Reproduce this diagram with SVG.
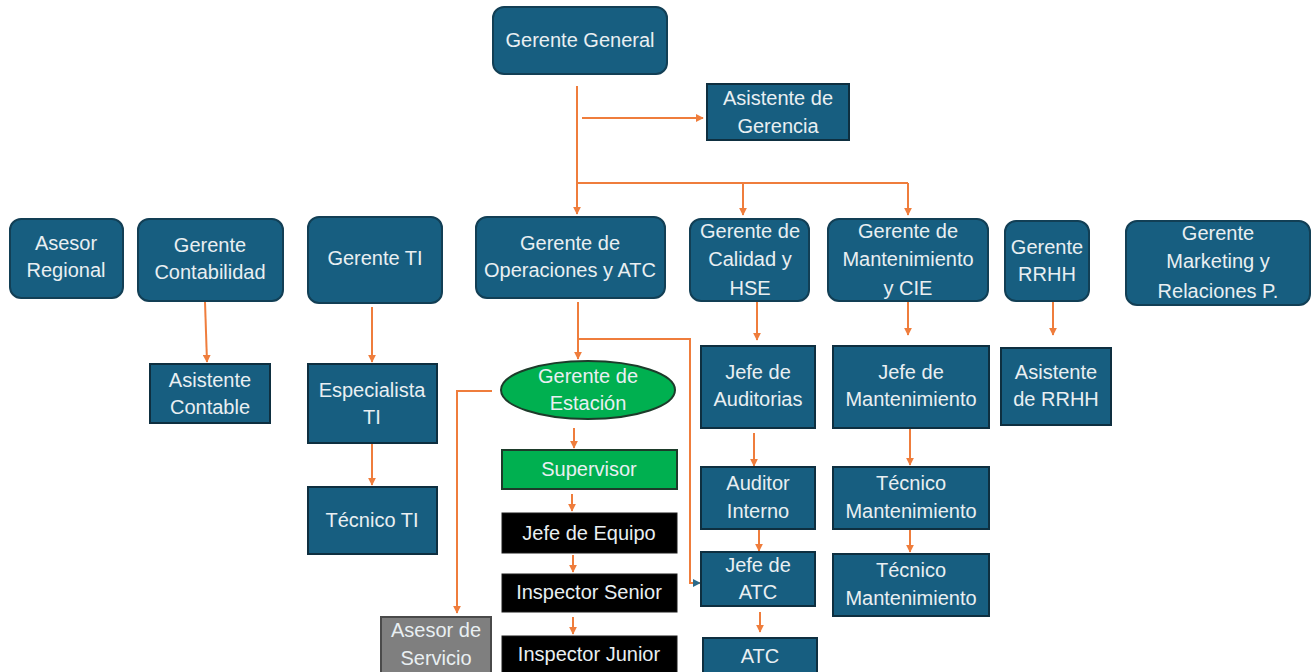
<svg xmlns="http://www.w3.org/2000/svg" width="1312" height="672" viewBox="0 0 1312 672">
  <style>
    .mgr { fill: #175e80; stroke: #123f55; stroke-width: 2; }
    .box { fill: #175e80; stroke: #0e2f40; stroke-width: 2; }
    .grn { fill: #00b050; stroke: #1d3b2a; stroke-width: 2; }
    .blk { fill: #000000; stroke: #1a1a1a; stroke-width: 1; }
    .gry { fill: #7f7f7f; stroke: #4a4a4a; stroke-width: 2; }
    text { font-family: "Liberation Sans", "DejaVu Sans", sans-serif; font-size: 20px; fill: #e9eff2; text-anchor: middle; }
    .wire { fill: none; stroke: #ef7d3c; stroke-width: 2; }
    .arr { marker-end: url(#ah); }
    .arrb { marker-end: url(#ahb); }
  </style>
  <defs>
    <marker id="ah" viewBox="0 0 10 10" refX="9" refY="5" markerWidth="4" markerHeight="4" orient="auto" markerUnits="strokeWidth">
      <path d="M0,0 L10,5 L0,10 z" fill="#ef7d3c"/>
    </marker>
    <marker id="ahb" viewBox="0 0 10 10" refX="9" refY="5" markerWidth="4" markerHeight="4" orient="auto" markerUnits="strokeWidth">
      <path d="M0,0 L10,5 L0,10 z" fill="#2a6a8a"/>
    </marker>
  </defs>

  <!-- connectors -->
  <g id="connectors">
    <path class="wire arr" d="M577,86 V214"/>
    <path class="wire arr" d="M582,118 H703"/>
    <path class="wire" d="M577,183 H908"/>
    <path class="wire arr" d="M743,183 V215"/>
    <path class="wire arr" d="M908,183 V215"/>
    <path class="wire arr" d="M205,302 L207,362"/>
    <path class="wire arr" d="M372,307 V362"/>
    <path class="wire arr" d="M372,443 V485"/>
    <path class="wire arr" d="M578,302 V359"/>
    <path class="wire" d="M578,339 H690 V583 H693"/>
    <path class="wire arrb" d="M692,583 H700"/>
    <path class="wire arr" d="M492,391 H457 V613"/>
    <path class="wire arr" d="M574,428 V448"/>
    <path class="wire arr" d="M572,494 V511"/>
    <path class="wire arr" d="M573,555 V572"/>
    <path class="wire arr" d="M573,617 V634"/>
    <path class="wire arr" d="M757,302 V340"/>
    <path class="wire arr" d="M754,433 V466"/>
    <path class="wire arr" d="M759,529 V551"/>
    <path class="wire arr" d="M760,612 V632"/>
    <path class="wire arr" d="M908,302 V335"/>
    <path class="wire arr" d="M910,428 V465"/>
    <path class="wire arr" d="M910,529 V552"/>
    <path class="wire arr" d="M1053,302 V335"/>
  </g>

  <!-- top level -->
  <g id="gerente-general">
    <rect class="mgr" x="493" y="7" width="174" height="67" rx="11"/>
    <text x="580" y="47">Gerente General</text>
  </g>
  <g id="asistente-gerencia">
    <rect class="box" x="707" y="84" width="142" height="56"/>
    <text x="778" y="105">Asistente de</text>
    <text x="778" y="133">Gerencia</text>
  </g>

  <!-- managers row -->
  <g id="asesor-regional">
    <rect class="mgr" x="10" y="219" width="113" height="79" rx="11"/>
    <text x="66" y="250">Asesor</text>
    <text x="66" y="277">Regional</text>
  </g>
  <g id="gerente-contabilidad">
    <rect class="mgr" x="138" y="219" width="145" height="82" rx="11"/>
    <text x="210" y="252">Gerente</text>
    <text x="210" y="279">Contabilidad</text>
  </g>
  <g id="gerente-ti">
    <rect class="mgr" x="308" y="217" width="134" height="86" rx="11"/>
    <text x="375" y="265">Gerente TI</text>
  </g>
  <g id="gerente-operaciones">
    <rect class="mgr" x="476" y="217" width="189" height="81" rx="11"/>
    <text x="570" y="250">Gerente de</text>
    <text x="570" y="277">Operaciones y ATC</text>
  </g>
  <g id="gerente-calidad">
    <rect class="mgr" x="690" y="219" width="119" height="82" rx="11"/>
    <text x="750" y="238">Gerente de</text>
    <text x="750" y="266">Calidad y</text>
    <text x="750" y="295">HSE</text>
  </g>
  <g id="gerente-mantenimiento">
    <rect class="mgr" x="828" y="219" width="160" height="82" rx="11"/>
    <text x="908" y="238">Gerente de</text>
    <text x="908" y="266">Mantenimiento</text>
    <text x="908" y="295">y CIE</text>
  </g>
  <g id="gerente-rrhh">
    <rect class="mgr" x="1005" y="221" width="84" height="80" rx="11"/>
    <text x="1047" y="254">Gerente</text>
    <text x="1047" y="281">RRHH</text>
  </g>
  <g id="gerente-marketing">
    <rect class="mgr" x="1126" y="221" width="184" height="84" rx="11"/>
    <text x="1218" y="240">Gerente</text>
    <text x="1218" y="268">Marketing y</text>
    <text x="1218" y="298">Relaciones P.</text>
  </g>

  <!-- contabilidad / TI -->
  <g id="asistente-contable">
    <rect class="box" x="150" y="364" width="120" height="59"/>
    <text x="210" y="387">Asistente</text>
    <text x="210" y="414">Contable</text>
  </g>
  <g id="especialista-ti">
    <rect class="box" x="308" y="364" width="129" height="79"/>
    <text x="372" y="397">Especialista</text>
    <text x="372" y="424">TI</text>
  </g>
  <g id="tecnico-ti">
    <rect class="box" x="308" y="487" width="129" height="67"/>
    <text x="372" y="527">Técnico TI</text>
  </g>

  <!-- operaciones -->
  <g id="gerente-estacion">
    <ellipse class="grn" cx="588" cy="390" rx="87" ry="29"/>
    <text x="588" y="383">Gerente de</text>
    <text x="588" y="410">Estación</text>
  </g>
  <g id="supervisor">
    <rect class="grn" x="502" y="450" width="175" height="39"/>
    <text x="589" y="476">Supervisor</text>
  </g>
  <g id="jefe-equipo">
    <rect class="blk" x="502" y="513" width="175" height="40"/>
    <text x="589" y="540">Jefe de Equipo</text>
  </g>
  <g id="inspector-senior">
    <rect class="blk" x="502" y="574" width="175" height="38"/>
    <text x="589" y="599">Inspector Senior</text>
  </g>
  <g id="inspector-junior">
    <rect class="blk" x="502" y="636" width="175" height="40"/>
    <text x="589" y="661">Inspector Junior</text>
  </g>
  <g id="asesor-servicio">
    <rect class="gry" x="381" y="617" width="110" height="60"/>
    <text x="436" y="637">Asesor de</text>
    <text x="436" y="665">Servicio</text>
  </g>

  <!-- calidad -->
  <g id="jefe-auditorias">
    <rect class="box" x="701" y="346" width="114" height="82"/>
    <text x="758" y="379">Jefe de</text>
    <text x="758" y="406">Auditorias</text>
  </g>
  <g id="auditor-interno">
    <rect class="box" x="701" y="467" width="114" height="62"/>
    <text x="758" y="490">Auditor</text>
    <text x="758" y="518">Interno</text>
  </g>
  <g id="jefe-atc">
    <rect class="box" x="701" y="552" width="114" height="54"/>
    <text x="758" y="572">Jefe de</text>
    <text x="758" y="599">ATC</text>
  </g>
  <g id="atc">
    <rect class="box" x="703" y="638" width="114" height="40"/>
    <text x="760" y="663">ATC</text>
  </g>

  <!-- mantenimiento -->
  <g id="jefe-mantenimiento">
    <rect class="box" x="833" y="346" width="156" height="82"/>
    <text x="911" y="379">Jefe de</text>
    <text x="911" y="406">Mantenimiento</text>
  </g>
  <g id="tecnico-mantenimiento-1">
    <rect class="box" x="833" y="467" width="156" height="62"/>
    <text x="911" y="490">Técnico</text>
    <text x="911" y="518">Mantenimiento</text>
  </g>
  <g id="tecnico-mantenimiento-2">
    <rect class="box" x="833" y="554" width="156" height="62"/>
    <text x="911" y="577">Técnico</text>
    <text x="911" y="605">Mantenimiento</text>
  </g>

  <!-- RRHH -->
  <g id="asistente-rrhh">
    <rect class="box" x="1001" y="348" width="110" height="77"/>
    <text x="1056" y="379">Asistente</text>
    <text x="1056" y="406">de RRHH</text>
  </g>
</svg>
